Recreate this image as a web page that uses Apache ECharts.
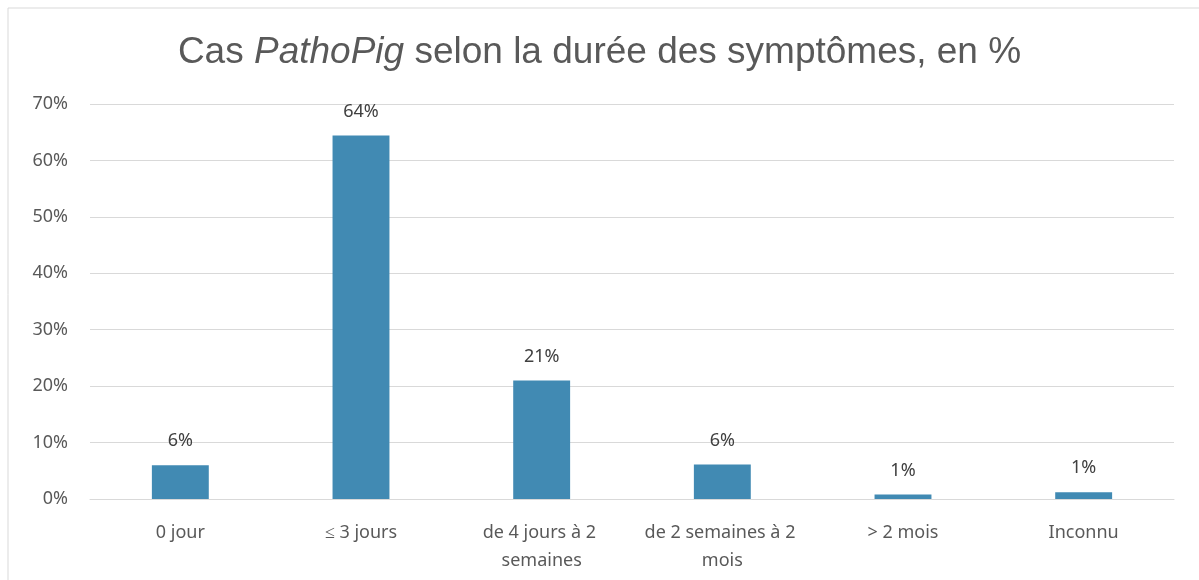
<!DOCTYPE html>
<html>
<head>
<meta charset="utf-8">
<script src="https://cdn.jsdelivr.net/npm/echarts@6/dist/echarts.min.js"></script>
<style>
html, body { margin: 0; padding: 0; background: #fff; }
#chart { width: 1199px; height: 580px; }
</style>
</head>
<body>
<div id="chart"></div>
<script>
// categories and values
var categories = ['0 jour', '≤ 3 jours', 'de 4 jours à 2 semaines', 'de 2 semaines à 2 mois', '> 2 mois', 'Inconnu'];
var values = [6.0, 64.4, 21.0, 6.1, 0.8, 1.2];
var yTicks = [0, 10, 20, 30, 40, 50, 60, 70];

var chart = echarts.init(document.getElementById('chart'));

chart.setOption({
	animation: false,
	graphic: [{
		type: 'rect',
		shape: { x: 8, y: 8, width: 1300, height: 700 },
		style: { fill: 'none', stroke: '#d9d9d9', lineWidth: 1 },
		silent: true
	}],
	title: {
		left: 'center',
		top: 29,
		text: '{a|Cas }{b|PathoPig}{a| selon la durée des symptômes, en %}',
		textStyle: {
			fontWeight: 'normal',
			rich: {
				a: { fontFamily: 'Liberation Sans', fontSize: 37, fontWeight: 'normal', color: '#595959' },
				b: { fontFamily: 'Liberation Sans', fontSize: 37, fontWeight: 'normal', color: '#595959', fontStyle: 'italic' }
			}
		}
	},
	grid: { left: 90, right: 25, top: 104, bottom: 81 },
	xAxis: {
		type: 'category',
		data: categories,
		axisLine: { lineStyle: { color: '#d9d9d9', width: 1 } },
		axisTick: { show: false },
		axisLabel: {
			interval: 0,
			margin: 20,
			width: 178,
			overflow: 'break',
			lineHeight: 28,
			fontFamily: 'Noto Sans',
			fontSize: 18,
			color: '#595959'
		}
	},
	yAxis: {
		type: 'value',
		min: yTicks[0],
		max: yTicks[yTicks.length - 1],
		interval: 10,
		axisLine: { show: false },
		axisTick: { show: false },
		splitLine: { lineStyle: { color: '#d9d9d9', width: 1 } },
		axisLabel: {
			margin: 22,
			fontFamily: 'Noto Sans',
			fontSize: 18,
			color: '#595959',
			formatter: function(v) { return v + '%'; }
		}
	},
	series: [{
		type: 'bar',
		data: values,
		barWidth: '31.5%',
		itemStyle: { color: '#418ab3' },
		label: {
			show: true,
			position: 'top',
			distance: 15,
			fontFamily: 'Noto Sans',
			fontSize: 18,
			color: '#404040',
			formatter: function(p) { return Math.round(p.value) + '%'; }
		}
	}]
});
</script>
</body>
</html>
